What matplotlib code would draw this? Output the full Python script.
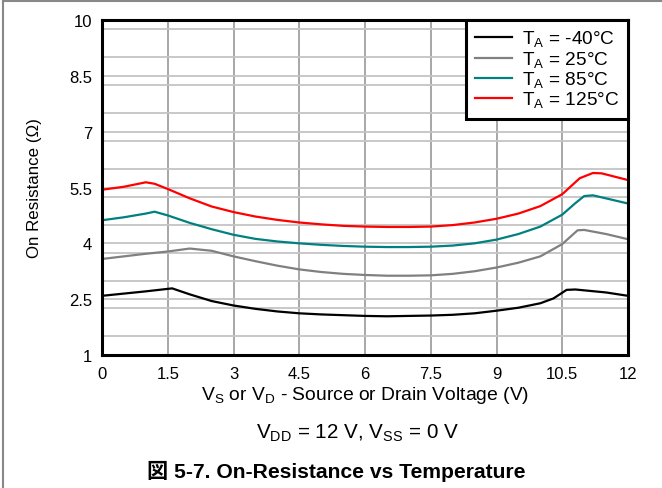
import numpy as np
import matplotlib
matplotlib.use('Agg')
import matplotlib.pyplot as plt
from matplotlib.lines import Line2D
from matplotlib.ticker import MultipleLocator

# 数据
x_m40 = [0, 0.5, 1.0, 1.6, 2.0, 2.5, 3.0, 3.5, 4.0, 4.5, 5.0, 5.5, 6.0, 6.5, 7.0,
         7.5, 8.0, 8.5, 9.0, 9.5, 10.0, 10.3, 10.6, 10.8, 11.5, 12]
r_m40 = [2.59, 2.65, 2.71, 2.79, 2.63, 2.45, 2.33, 2.24, 2.17, 2.12, 2.09, 2.07, 2.05, 2.04, 2.05,
         2.06, 2.08, 2.12, 2.19, 2.27, 2.39, 2.52, 2.75, 2.76, 2.68, 2.59]

x_25 = [0, 0.5, 1.0, 1.5, 2.0, 2.5, 3.0, 3.5, 4.0, 4.5, 5.0, 5.5, 6.0, 6.5, 7.0,
        7.5, 8.0, 8.5, 9.0, 9.5, 10.0, 10.5, 10.85, 11.0, 11.5, 12]
r_25 = [3.58, 3.65, 3.72, 3.78, 3.86, 3.80, 3.65, 3.52, 3.40, 3.30, 3.23, 3.18, 3.15, 3.13, 3.13,
        3.14, 3.18, 3.25, 3.35, 3.48, 3.65, 3.98, 4.35, 4.36, 4.25, 4.11]

x_85 = [0, 0.5, 1.0, 1.2, 1.5, 2.0, 2.5, 3.0, 3.5, 4.0, 4.5, 5.0, 5.5, 6.0, 6.5, 7.0,
        7.5, 8.0, 8.5, 9.0, 9.5, 10.0, 10.5, 10.8, 11.0, 11.2, 12]
r_85 = [4.62, 4.70, 4.80, 4.85, 4.75, 4.55, 4.38, 4.23, 4.12, 4.05, 4.00, 3.96, 3.93, 3.91, 3.90, 3.90,
        3.91, 3.94, 4.00, 4.10, 4.25, 4.45, 4.77, 5.08, 5.27, 5.29, 5.07]

x_125 = [0, 0.5, 1.0, 1.2, 1.5, 2.0, 2.5, 3.0, 3.5, 4.0, 4.5, 5.0, 5.5, 6.0, 6.5, 7.0,
         7.5, 8.0, 8.5, 9.0, 9.5, 10.0, 10.5, 10.9, 11.2, 11.4, 12]
r_125 = [5.44, 5.52, 5.64, 5.60, 5.46, 5.21, 4.99, 4.84, 4.72, 4.63, 4.56, 4.51, 4.47, 4.45, 4.44, 4.44,
         4.45, 4.49, 4.56, 4.66, 4.80, 5.00, 5.32, 5.75, 5.89, 5.88, 5.70]

labels = [r'T$_\mathrm{A}$ = -40°C', r'T$_\mathrm{A}$ = 25°C',
          r'T$_\mathrm{A}$ = 85°C', r'T$_\mathrm{A}$ = 125°C']
colors = ['black', '#808080', '#008080', 'red']

xticks = [0, 1.5, 3, 4.5, 6, 7.5, 9, 10.5, 12]
yticks = [1, 2.5, 4, 5.5, 7, 8.5, 10]
xtick_labels = ['0', '1.5', '3', '4.5', '6', '7.5', '9', '10.5', '12']
ytick_labels = ['1', '2.5', '4', '5.5', '7', '8.5', '10']

xlabel = r'V$_\mathrm{S}$ or V$_\mathrm{D}$ - Source or Drain Voltage (V)'
ylabel = 'On Resistance (Ω)'
cond_text = r'V$_\mathrm{DD}$ = 12 V, V$_\mathrm{SS}$ = 0 V'
title_text = '図 5-7. On-Resistance vs Temperature'

plt.rcParams['font.family'] = ['Liberation Sans', 'Noto Sans CJK JP']
plt.rcParams['font.size'] = 12
plt.rcParams['mathtext.fontset'] = 'custom'
plt.rcParams['mathtext.rm'] = 'Liberation Sans'

W, H = 662, 489
fig = plt.figure(figsize=(W / 100, H / 100), dpi=100)
renderer = fig.canvas.get_renderer()


def fit_size(txt, target_px, base=12, **kw):
    # 按参考图中的像素宽度求字号
    t = fig.text(0, 0, txt, fontsize=base, **kw)
    w = t.get_window_extent(renderer).width
    t.remove()
    return base * target_px / w


ax = fig.add_axes([102 / W, 1 - 356 / H, 526 / W, 335 / H])

series = [(x_m40, r_m40), (x_25, r_25), (x_85, r_85), (x_125, r_125)]
for (xs, ys), c, lab in zip(series, colors, labels):
    ax.plot(xs, ys, color=c, linewidth=1.6, label=lab, zorder=3)

ax.set_xlim(0, 12)
ax.set_ylim(1, 10)
ax.set_xticks(xticks)
ax.set_xticklabels(xtick_labels)
ax.set_yticks(yticks)
ax.set_yticklabels(ytick_labels)
ax.yaxis.set_minor_locator(MultipleLocator(0.75))

# 网格
ax.set_axisbelow(True)
ax.grid(axis='x', which='major', color='#a0a0a0', linewidth=1.3)
ax.grid(axis='y', which='both', color='#c4c4c4', linewidth=1.3)

ax.tick_params(which='both', length=0, labelsize=12)
ax.tick_params(axis='y', pad=7)
ax.tick_params(axis='x', pad=8)
for s in ax.spines.values():
    s.set_linewidth(2.2)
    s.set_color('black')
    s.set_zorder(4)

ax.set_xlabel(xlabel, fontsize=fit_size(xlabel, 328), va='baseline')
ax.xaxis.set_label_coords(0.5, (356 - 400) / 335)
ax.set_ylabel(ylabel, fontsize=fit_size(ylabel, 139))
ax.yaxis.set_label_coords((42 - 102) / 526, 0.5)

leg_fs = fit_size(labels[0], 93)
px = leg_fs * 100 / 72
leg = ax.legend(loc='upper right', bbox_to_anchor=(1, 1), borderaxespad=0,
                fancybox=False, framealpha=1, edgecolor='black', fontsize=leg_fs,
                handlelength=37 / px, handletextpad=10 / px, borderpad=9 / px,
                labelspacing=0.0)
leg.get_frame().set_linewidth(2.2)
leg.set_zorder(5)

fig.text(358 / W, 1 - 438 / H, cond_text, ha='center', va='baseline',
         fontsize=fit_size(cond_text, 203))
fig.text(336 / W, 1 - 478 / H, title_text, ha='center', va='baseline',
         fontweight='bold', fontsize=fit_size(title_text, 378, fontweight='bold'))

# 外框线 (顶部和左侧)
fig.add_artist(Line2D([3 / W, 1], [1 - 2 / H, 1 - 2 / H], color='#888888', linewidth=1.5))
fig.add_artist(Line2D([3 / W, 3 / W], [0, 1 - 2 / H], color='#888888', linewidth=1.5))

fig.savefig('out.png', dpi=100)
